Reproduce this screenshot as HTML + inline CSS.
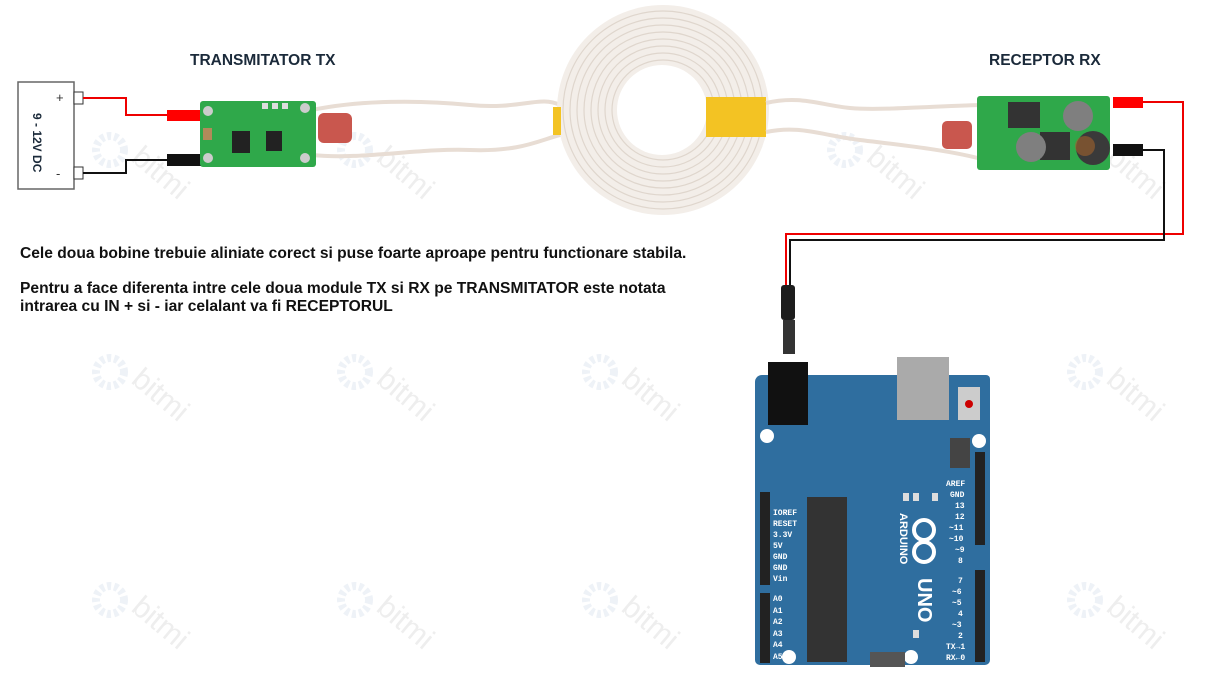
<!DOCTYPE html>
<html><head><meta charset="utf-8"><style>
body{margin:0;background:#fff;}
svg{display:block;}
text{font-family:"Liberation Sans",sans-serif;}
</style></head><body>
<svg width="1209" height="697" viewBox="0 0 1209 697" xmlns="http://www.w3.org/2000/svg">
<defs>
<g id="wm">
<circle cx="0" cy="0" r="14" fill="none" stroke="#eef2f7" stroke-width="8" stroke-dasharray="4 3"/>
<text x="20" y="10" transform="rotate(40 20 10)" font-size="30" fill="#eeeeee">bitmi</text>
</g>
</defs>
<g>
<use href="#wm" x="110" y="150"/><use href="#wm" x="355" y="150"/><use href="#wm" x="600" y="150"/><use href="#wm" x="845" y="150"/><use href="#wm" x="1085" y="150"/>
<use href="#wm" x="110" y="372"/><use href="#wm" x="355" y="372"/><use href="#wm" x="600" y="372"/><use href="#wm" x="1085" y="372"/>
<use href="#wm" x="110" y="600"/><use href="#wm" x="355" y="600"/><use href="#wm" x="600" y="600"/><use href="#wm" x="1085" y="600"/>
</g>

<!-- titles -->
<text x="190" y="65" font-size="15.5" font-weight="bold" fill="#1b2a3a">TRANSMITATOR TX</text>
<text x="989" y="65" font-size="15.5" font-weight="bold" fill="#1b2a3a">RECEPTOR RX</text>
<text x="20" y="258" font-size="15.6" font-weight="bold" fill="#111">Cele doua bobine trebuie aliniate corect si puse foarte aproape pentru functionare stabila.</text>
<text x="20" y="293" font-size="15.6" font-weight="bold" fill="#111">Pentru a face diferenta intre cele doua module TX si RX pe TRANSMITATOR este notata</text>
<text x="20" y="311" font-size="15.6" font-weight="bold" fill="#111">intrarea cu IN + si - iar celalant va fi RECEPTORUL</text>

<!-- battery -->
<rect x="18" y="82" width="56" height="107" fill="#fff" stroke="#666" stroke-width="1.5"/>
<rect x="74" y="92" width="9" height="12" fill="#fff" stroke="#333"/>
<rect x="74" y="167" width="9" height="12" fill="#fff" stroke="#333"/>
<text x="56" y="102" font-size="13" fill="#333">+</text>
<text x="56" y="178" font-size="13" fill="#333">-</text>
<text transform="translate(33,113) rotate(90)" font-size="12" font-weight="bold" fill="#1b2a3a">9 - 12V DC</text>
<polyline points="83,98 126,98 126,115 168,115" fill="none" stroke="#e00" stroke-width="2"/>
<polyline points="83,173 126,173 126,160 168,160" fill="none" stroke="#111" stroke-width="2"/>
<rect x="167" y="110" width="35" height="11" fill="#f00"/>
<rect x="167" y="154" width="35" height="12" fill="#111"/>

<!-- TX wires to coil -->
<path d="M312,110 C360,100 420,100 470,105 S540,95 560,105" fill="none" stroke="#e8ddd4" stroke-width="4"/>
<path d="M312,155 C360,160 420,148 470,150 S540,140 560,135" fill="none" stroke="#e8ddd4" stroke-width="4"/>
<!-- TX module -->
<rect x="200" y="101" width="116" height="66" rx="3" fill="#2fa84a"/>
<rect x="232" y="131" width="18" height="22" fill="#222"/>
<rect x="266" y="131" width="16" height="20" fill="#222"/>
<rect x="203" y="128" width="9" height="12" fill="#b28a5a"/>
<circle cx="208" cy="111" r="5" fill="#ccc"/><circle cx="208" cy="158" r="5" fill="#ccc"/>
<circle cx="305" cy="108" r="5" fill="#ccc"/><circle cx="305" cy="158" r="5" fill="#ccc"/>
<rect x="262" y="103" width="6" height="6" fill="#ddd"/><rect x="272" y="103" width="6" height="6" fill="#ddd"/><rect x="282" y="103" width="6" height="6" fill="#ddd"/>
<rect x="318" y="113" width="34" height="30" rx="6" fill="#c9574e"/>

<!-- coil -->
<ellipse cx="663" cy="110" rx="106" ry="105" fill="#f3eee9"/>
<g fill="none" stroke="#dfd6cd" stroke-width="1.2">
<ellipse cx="663" cy="110" rx="100" ry="99"/><ellipse cx="663" cy="110" rx="93" ry="92"/><ellipse cx="663" cy="110" rx="86" ry="85"/><ellipse cx="663" cy="110" rx="79" ry="78"/><ellipse cx="663" cy="110" rx="72" ry="71"/><ellipse cx="663" cy="110" rx="65" ry="64"/><ellipse cx="663" cy="110" rx="58" ry="57"/><ellipse cx="663" cy="110" rx="51" ry="50"/>
</g>
<ellipse cx="662" cy="110" rx="45" ry="45" fill="#fff"/>
<rect x="706" y="97" width="60" height="40" fill="#f3c323"/>
<rect x="553" y="107" width="8" height="28" fill="#f3c323"/>
<!-- RX wires -->
<path d="M766,103 C800,95 820,105 850,108 S950,105 985,105" fill="none" stroke="#e8ddd4" stroke-width="4"/>
<path d="M766,132 C800,125 820,135 860,140 S950,150 985,160" fill="none" stroke="#e8ddd4" stroke-width="4"/>

<!-- RX module -->
<rect x="977" y="96" width="133" height="74" rx="3" fill="#2fa84a"/>
<rect x="1008" y="102" width="32" height="26" fill="#333"/>
<rect x="1040" y="132" width="30" height="28" fill="#333"/>
<circle cx="1078" cy="116" r="15" fill="#7f7f7f"/>
<circle cx="1031" cy="147" r="15" fill="#7f7f7f"/>
<circle cx="1093" cy="148" r="17" fill="#3a3a3a"/>
<circle cx="1085" cy="146" r="10" fill="#a2622b" opacity="0.6"/>
<rect x="942" y="121" width="30" height="28" rx="5" fill="#c9574e"/>
<rect x="1113" y="97" width="30" height="11" fill="#f00"/>
<rect x="1113" y="144" width="30" height="12" fill="#111"/>
<polyline points="1143,102 1183,102 1183,234 786,234 786,290" fill="none" stroke="#e00" stroke-width="2"/>
<polyline points="1143,150 1164,150 1164,240 790,240 790,290" fill="none" stroke="#111" stroke-width="2"/>
<!-- DC plug -->
<rect x="781" y="285" width="14" height="35" rx="3" fill="#1d1d1d"/>
<rect x="783" y="320" width="12" height="34" fill="#333"/>

<!-- Arduino -->
<path d="M762,375 H986 a4,4 0 0 1 4,4 V660 a5,5 0 0 1 -5,5 H760 a5,5 0 0 1 -5,-5 V382 a7,7 0 0 1 7,-7Z" fill="#2f6e9f"/>
<rect x="768" y="362" width="40" height="63" fill="#111"/>
<rect x="897" y="357" width="52" height="63" fill="#aaa"/>
<rect x="958" y="387" width="22" height="33" fill="#ccc"/>
<circle cx="969" cy="404" r="4" fill="#c00"/>
<circle cx="767" cy="436" r="7" fill="#fff"/><circle cx="979" cy="441" r="7" fill="#fff"/>
<circle cx="789" cy="657" r="7" fill="#fff"/><circle cx="911" cy="657" r="7" fill="#fff"/>
<rect x="950" y="438" width="20" height="30" fill="#444"/>
<rect x="975" y="452" width="10" height="93" fill="#222"/>
<rect x="975" y="570" width="10" height="92" fill="#222"/>
<rect x="760" y="492" width="10" height="93" fill="#222"/>
<rect x="760" y="593" width="10" height="70" fill="#222"/>
<rect x="807" y="497" width="40" height="165" fill="#333"/>
<rect x="870" y="652" width="35" height="15" fill="#555"/>
<g fill="#fff" style="font-family:'Liberation Mono',monospace" font-size="8" font-weight="bold">
<text style="font-family:'Liberation Mono',monospace" x="773" y="515">IOREF</text><text style="font-family:'Liberation Mono',monospace" x="773" y="526">RESET</text><text style="font-family:'Liberation Mono',monospace" x="773" y="537">3.3V</text><text style="font-family:'Liberation Mono',monospace" x="773" y="548">5V</text><text style="font-family:'Liberation Mono',monospace" x="773" y="559">GND</text><text style="font-family:'Liberation Mono',monospace" x="773" y="570">GND</text><text style="font-family:'Liberation Mono',monospace" x="773" y="581">Vin</text>
<text style="font-family:'Liberation Mono',monospace" x="773" y="601">A0</text><text style="font-family:'Liberation Mono',monospace" x="773" y="613">A1</text><text style="font-family:'Liberation Mono',monospace" x="773" y="624">A2</text><text style="font-family:'Liberation Mono',monospace" x="773" y="636">A3</text><text style="font-family:'Liberation Mono',monospace" x="773" y="647">A4</text><text style="font-family:'Liberation Mono',monospace" x="773" y="659">A5</text>
<text style="font-family:'Liberation Mono',monospace" x="946" y="486">AREF</text><text style="font-family:'Liberation Mono',monospace" x="950" y="497">GND</text><text style="font-family:'Liberation Mono',monospace" x="955" y="508">13</text><text style="font-family:'Liberation Mono',monospace" x="955" y="519">12</text><text style="font-family:'Liberation Mono',monospace" x="949" y="530">~11</text><text style="font-family:'Liberation Mono',monospace" x="949" y="541">~10</text><text style="font-family:'Liberation Mono',monospace" x="955" y="552">~9</text><text style="font-family:'Liberation Mono',monospace" x="958" y="563">8</text>
<text style="font-family:'Liberation Mono',monospace" x="958" y="583">7</text><text style="font-family:'Liberation Mono',monospace" x="952" y="594">~6</text><text style="font-family:'Liberation Mono',monospace" x="952" y="605">~5</text><text style="font-family:'Liberation Mono',monospace" x="958" y="616">4</text><text style="font-family:'Liberation Mono',monospace" x="952" y="627">~3</text><text style="font-family:'Liberation Mono',monospace" x="958" y="638">2</text><text style="font-family:'Liberation Mono',monospace" x="946" y="649">TX→1</text><text style="font-family:'Liberation Mono',monospace" x="946" y="660">RX←0</text>
</g>
<g fill="#fff" font-weight="bold">
<text transform="translate(900,513) rotate(90)" font-size="11">ARDUINO</text>
<text transform="translate(918,578) rotate(90)" font-size="20">UNO</text>
</g>
<g fill="none" stroke="#fff" stroke-width="4"><circle cx="924" cy="530" r="10"/><circle cx="924" cy="552" r="10"/></g>
<rect x="903" y="493" width="6" height="8" fill="#ddd"/><rect x="913" y="493" width="6" height="8" fill="#ddd"/><rect x="932" y="493" width="6" height="8" fill="#ddd"/><rect x="913" y="630" width="6" height="8" fill="#ddd"/>
</svg>
</body></html>
